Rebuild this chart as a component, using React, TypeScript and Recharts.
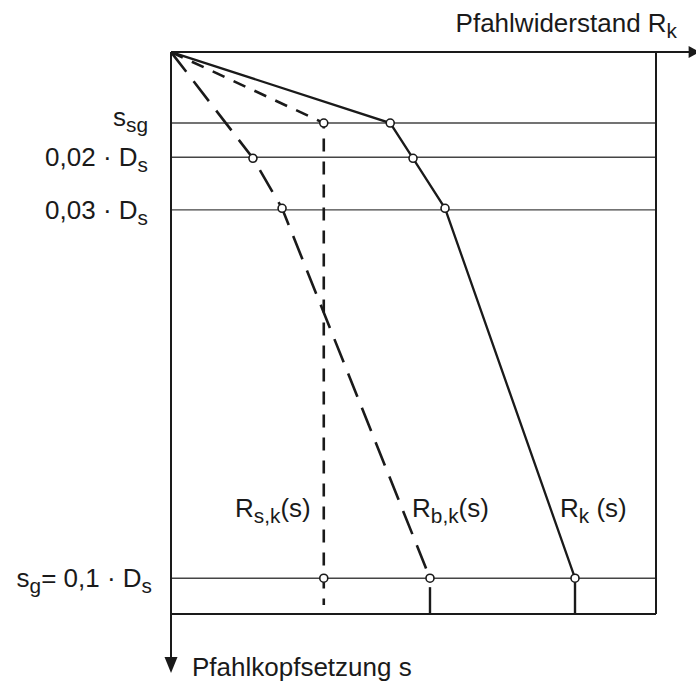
import React from "react";
import {
  ComposedChart,
  Line,
  Scatter,
  XAxis,
  YAxis,
  ReferenceLine,
  ReferenceDot,
} from "recharts";

// settlement levels (fraction of D_s) and their labels
const levels = [0.0135, 0.02, 0.03, 0.1];
const levelLabels = [
  [["s", ""], ["sg", "sub"]],
  [["0,02 · D", ""], ["s", "sub"]],
  [["0,03 · D", ""], ["s", "sub"]],
  [["s", ""], ["g", "sub"], ["= 0,1 · D", ""], ["s", "sub"]],
];

// shaft resistance R_s,k(s)
const rsR = [0, 31.5, 31.5, 31.5];
const rsS = [0, 0.0135, 0.1, 0.1051];
const rsMarks = [1, 2];

// base resistance R_b,k(s)
const rbR = [0, 16.9, 22.9, 53.4];
const rbS = [0, 0.0202, 0.0297, 0.1];
const rbMarks = [1, 2, 3];

// total resistance R_k(s)
const rkR = [0, 45.2, 49.9, 56.5, 83.3];
const rkS = [0, 0.0135, 0.0202, 0.0297, 0.1];
const rkMarks = [1, 2, 3, 4];

const xMax = 100;
const yMax = 0.1068;

const FONT = "'Liberation Sans', Arial, sans-serif";
const INK = "#1a1a1a";
const FS = 26;

const toPts = (r: number[], s: number[]) => r.map((v, i) => ({ r: v, s: s[i] }));

const rs = toPts(rsR, rsS);
const rb = toPts(rbR, rbS);
const rk = toPts(rkR, rkS);

const markers = [
  ...rsMarks.map((i) => rs[i]),
  ...rbMarks.map((i) => rb[i]),
  ...rkMarks.map((i) => rk[i]),
];

const renderParts = (parts: string[][], size: number) => {
  let down = false;
  return parts.map(([t, kind], i) => {
    const sub = kind === "sub";
    let dy = 0;
    if (sub && !down) dy = 6;
    if (!sub && down) dy = -6;
    down = sub;
    return (
      <tspan key={i} dy={dy} fontSize={sub ? size * 0.8 : size}>
        {t}
      </tspan>
    );
  });
};

const LevelTick = (props: any) => {
  const { y, payload } = props;
  const idx = levels.indexOf(payload.value);
  if (idx < 0) return null;
  const shift = idx === 0 ? 3 : 9;
  return (
    <text
      x={idx === 3 ? 152 : 148}
      y={y + shift}
      textAnchor="end"
      fontFamily={FONT}
      fontSize={FS}
      fill={INK}
    >
      {renderParts(levelLabels[idx], FS)}
    </text>
  );
};

const Marker = (props: any) => (
  <circle cx={props.cx} cy={props.cy} r={4} fill="#fff" stroke={INK} strokeWidth={1.6} />
);

const curveLabels = [
  { r: 13.2, parts: [["R", ""], ["s,k", "sub"], ["(s)", ""]] },
  { r: 49.7, parts: [["R", ""], ["b,k", "sub"], ["(s)", ""]] },
  { r: 80.2, parts: [["R", ""], ["k", "sub"], [" (s)", ""]] },
];
const curveLabelS = 0.0884;

export default function App() {
  return (
    <div style={{ position: "absolute", left: 0, top: 0, width: 696, height: 682, background: "#fff" }}>
      <ComposedChart
        width={696}
        height={682}
        margin={{ top: 52, right: 40, bottom: 68, left: 0 }}
      >
        <XAxis dataKey="r" type="number" domain={[0, xMax]} allowDataOverflow hide />
        <YAxis
          type="number"
          reversed
          domain={[0, yMax]}
          allowDataOverflow
          ticks={levels}
          width={171}
          axisLine={false}
          tickLine={false}
          tick={<LevelTick />}
        />

        {levels.map((l) => (
          <ReferenceLine key={l} y={l} stroke="#444" strokeWidth={1.4} />
        ))}

        {/* frame and axes */}
        <ReferenceLine x={xMax} stroke={INK} strokeWidth={2} />
        <ReferenceLine y={yMax} stroke={INK} strokeWidth={2} />
        <ReferenceLine
          segment={[{ x: 0, y: 0 }, { x: 107, y: 0 }]}
          ifOverflow="visible"
          stroke={INK}
          strokeWidth={2}
        />
        <ReferenceLine
          segment={[{ x: 0, y: 0 }, { x: 0, y: 0.1155 }]}
          ifOverflow="visible"
          stroke={INK}
          strokeWidth={2}
        />
        <ReferenceDot
          x={109}
          y={0}
          ifOverflow="visible"
          shape={(p: any) => (
            <path d={`M${p.cx},${p.cy} l-11,-6 l0,12 z`} fill={INK} />
          )}
        />
        <ReferenceDot
          x={0}
          y={0.1180}
          ifOverflow="visible"
          shape={(p: any) => (
            <path d={`M${p.cx},${p.cy} l-6.5,-16 l13,0 z`} fill={INK} />
          )}
        />

        {/* stubs below s_g */}
        <Line
          data={[{ r: rbR[3], s: 0.1017 }, { r: rbR[3], s: yMax }]}
          dataKey="s"
          stroke={INK}
          strokeWidth={2.4}
          dot={false}
          activeDot={false}
          isAnimationActive={false}
        />
        <Line
          data={[{ r: rkR[4], s: 0.1 }, { r: rkR[4], s: yMax }]}
          dataKey="s"
          stroke={INK}
          strokeWidth={2.4}
          dot={false}
          activeDot={false}
          isAnimationActive={false}
        />

        <Line
          data={rs}
          dataKey="s"
          type="linear"
          stroke={INK}
          strokeWidth={2.6}
          strokeDasharray="13 10"
          dot={false}
          activeDot={false}
          isAnimationActive={false}
        />
        <Line
          data={rb}
          dataKey="s"
          type="linear"
          stroke={INK}
          strokeWidth={2.6}
          strokeDasharray="25 12"
          dot={false}
          activeDot={false}
          isAnimationActive={false}
        />
        <Line
          data={rk}
          dataKey="s"
          type="linear"
          stroke={INK}
          strokeWidth={2.3}
          dot={false}
          activeDot={false}
          isAnimationActive={false}
        />

        <Scatter data={markers} dataKey="s" shape={<Marker />} isAnimationActive={false} />

        {curveLabels.map((c, i) => (
          <ReferenceDot
            key={i}
            x={c.r}
            y={curveLabelS}
            ifOverflow="visible"
            shape={(p: any) => (
              <text x={p.cx} y={p.cy} fontFamily={FONT} fontSize={FS} fill={INK}>
                {renderParts(c.parts, FS)}
              </text>
            )}
          />
        ))}
      </ComposedChart>

      <svg
        width={696}
        height={682}
        style={{ position: "absolute", left: 0, top: 0, pointerEvents: "none" }}
      >
        <text x={677} y={32} textAnchor="end" fontFamily={FONT} fontSize={FS} fill={INK}>
          {renderParts([["Pfahlwiderstand R", ""], ["k", "sub"]], FS)}
        </text>
        <text x={192} y={676} fontFamily={FONT} fontSize={FS} fill={INK}>
          Pfahlkopfsetzung s
        </text>
      </svg>
    </div>
  );
}
